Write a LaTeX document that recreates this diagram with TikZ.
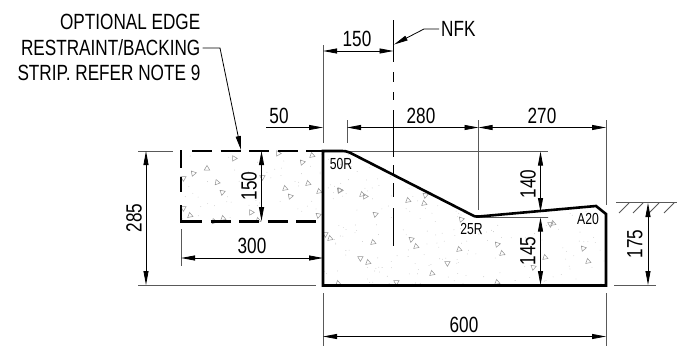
\documentclass[tikz,border=0pt]{standalone}
\usepackage{fontspec}
\setmainfont{Liberation Sans}
\newfontfamily\dimfont[FakeStretch=0.78]{Liberation Sans}
\newfontfamily\smallfont[FakeStretch=0.76]{Liberation Sans}
\usetikzlibrary{arrows.meta}
\definecolor{extgray}{gray}{0.35}
\definecolor{speck}{gray}{0.58}
\tikzset{
 x=1pt,y=-1pt,
 dimline/.style={line width=0.8pt,black,{Stealth[length=14pt,width=5pt,inset=0pt]}-{Stealth[length=14pt,width=5pt,inset=0pt]}},
 toarrow/.style={line width=0.8pt,black,-{Stealth[length=14pt,width=5pt,inset=0pt]}},
 extline/.style={line width=0.8pt,extgray},
 solidline/.style={line width=0.9pt,black},
 heavy/.style={line width=2.6pt,black,line join=miter},
 dimtext/.style={inner sep=0pt,font=\dimfont\fontsize{22}{24}\selectfont},
 smalltext/.style={inner sep=0pt,font=\smallfont\fontsize{16}{18}\selectfont},
 tri/.style={line width=0.5pt,draw=speck},
}
\newcommand{\tria}[2]{\draw[tri,shift={(#1,#2)},rotate=\trot] (-2.7,2)--(2.7,2)--(0,-2.6)--cycle;}
\begin{document}
\begin{tikzpicture}
\useasboundingbox (0,0) rectangle (677,348);
\fill[white] (0,0) rectangle (677,348);
% speckle
\begin{scope}
\clip (181,151) rectangle (323,221.5) (323,151)--(348,151.7)--(472,214)--(478,216.7)--(596,206)--(606,214)--(606,285.5)--(323,285.5)--cycle;
\pgfmathsetseed{4217}
\foreach \i in {1,...,380}{
 \pgfmathsetmacro{\xx}{181+rnd*425}
 \pgfmathsetmacro{\yy}{151+rnd*135}
 \fill[gray!45] (\xx,\yy) circle (0.42pt);
}
\end{scope}
\foreach \px/\py/\trot in {234/158/30,207/168/0,193/173/40,183/178/60,217/182/20,222/192/50,183/208/60,190/215/10,223/218/10,251/212/30,214/221/20,258/220/10,262/177/60,278/153/30,302/162/40,312/155/10,308/183/10,285/188/10,290/196/40,319/191/10,318/215/50,325/234/60,330/238/10,339/190/40,338/283/10,362/194/10,365/196/30,375/214/50,340/190/30,373/242/10,360/258/60,368/262/10,408/200/10,424/203/10,425/195/50,461/219/40,411/239/50,416/246/10,459/249/10,447/263/60,432/273/10,396/282/60,497/282/10,497/244/40,502/253/10,550/224/60,553/223/10,545/257/10,533/267/50,583/248/40,588/261/10}{
 \tria{\px}{\py}
}
% extension lines
\draw[extline] (323,45)--(323,143);
\draw[extline] (323,293)--(323,346);
\draw[extline] (606,120)--(606,205);
\draw[extline] (606,293)--(606,346);
\draw[extline] (347,120)--(347,143);
\draw[extline] (478.5,120)--(478.5,210);
\draw[extline] (347,151)--(548,151);
\draw[extline] (478,217)--(548,217);
\draw[extline] (138,151)--(173,151);
\draw[extline] (138,285.5)--(316,285.5);
\draw[extline] (181,229)--(181,266);
\draw[extline] (614,285.5)--(656,285.5);
\draw[extline] (616,202.5)--(677,202.5);
\foreach \hx in {629,643,659,674}{\draw[extline] (\hx,203)--(\hx-10,213);}
% NFK line
\draw[solidline] (393.5,20)--(393.5,62);
\draw[solidline] (393.5,72)--(393.5,82);
\draw[solidline] (393.5,92)--(393.5,100);
\draw[solidline] (393.5,110)--(393.5,157);
\draw[solidline] (393.5,165)--(393.5,175);
\draw[solidline] (393.5,183)--(393.5,197);
\draw[solidline] (393.5,208)--(393.5,246);
% concrete outline
\draw[heavy] (323,151)--(340,151) .. controls (345,151) and (347,151.2) .. (350,152.7) -- (471,214.5) .. controls (473.5,216) and (475,216.8) .. (479,216.5) -- (596,206) -- (606,214) -- (606,285.5) -- (323,285.5) -- cycle;
% dashed strip
\draw[heavy,dash pattern=on 20pt off 8.5pt] (192,151)--(323,151);
\draw[heavy,dash pattern=on 20pt off 8.5pt] (182,221.5)--(323,221.5);
\draw[heavy] (181,150)--(181,168);
\draw[heavy] (181,177)--(181,192);
\draw[heavy] (181,205)--(181,222.5);
% dimensions
\draw[dimline] (146,151)--(146,285);
\draw[dimline] (261.5,151)--(261.5,221);
\draw[dimline] (181,258)--(323,258);
\draw[toarrow] (266,127.5)--(323,127.5);
\draw[dimline] (323,51)--(393.5,51);
\draw[dimline] (347,127.5)--(478.5,127.5);
\draw[dimline] (478.5,127.5)--(606,127.5);
\draw[dimline] (540.5,151.5)--(540.5,212);
\draw[dimline] (540.5,217.5)--(540.5,285);
\draw[dimline] (648,203)--(648,285);
\draw[dimline] (323,336.5)--(606,336.5);
% leaders
\node[dimtext,anchor=east] (o1) at (200.5,22) {OPTIONAL EDGE};
\node[dimtext,anchor=east] (o2) at (200.5,48) {RESTRAINT/BACKING};
\node[dimtext,anchor=east] (o3) at (200.5,73) {STRIP. REFER NOTE 9};
\node[dimtext,anchor=west] (nfk) at (441,29) {NFK};
\coordinate (la) at (241,150);
\draw[toarrow] (o2.east)++(2,0)--(220,48)--(la);
\draw[toarrow] (nfk.west)++(-2,0)--(424,29)--(394,44.5);
% labels
\node[dimtext] (d150a) at (357,39) {150};
\node[dimtext] (d50) at (279,116) {50};
\node[dimtext] (d280) at (421,116) {280};
\node[dimtext] (d270) at (542,116) {270};
\node[dimtext,rotate=90] (d285) at (134,218) {285};
\node[dimtext,rotate=90] (d150b) at (249,186) {150};
\node[dimtext] (d300) at (252,246) {300};
\node[dimtext,rotate=90] (d140) at (528,184) {140};
\node[dimtext,rotate=90] (d145) at (528,251) {145};
\node[dimtext,rotate=90] (d175) at (635,244) {175};
\node[dimtext] (d600) at (464,325) {600};
\node[smalltext] (r50) at (341,163.5) {50R};
\node[smalltext] (r25) at (471.5,229) {25R};
\node[smalltext] (a20) at (588,218.5) {A20};
\end{tikzpicture}
\end{document}
